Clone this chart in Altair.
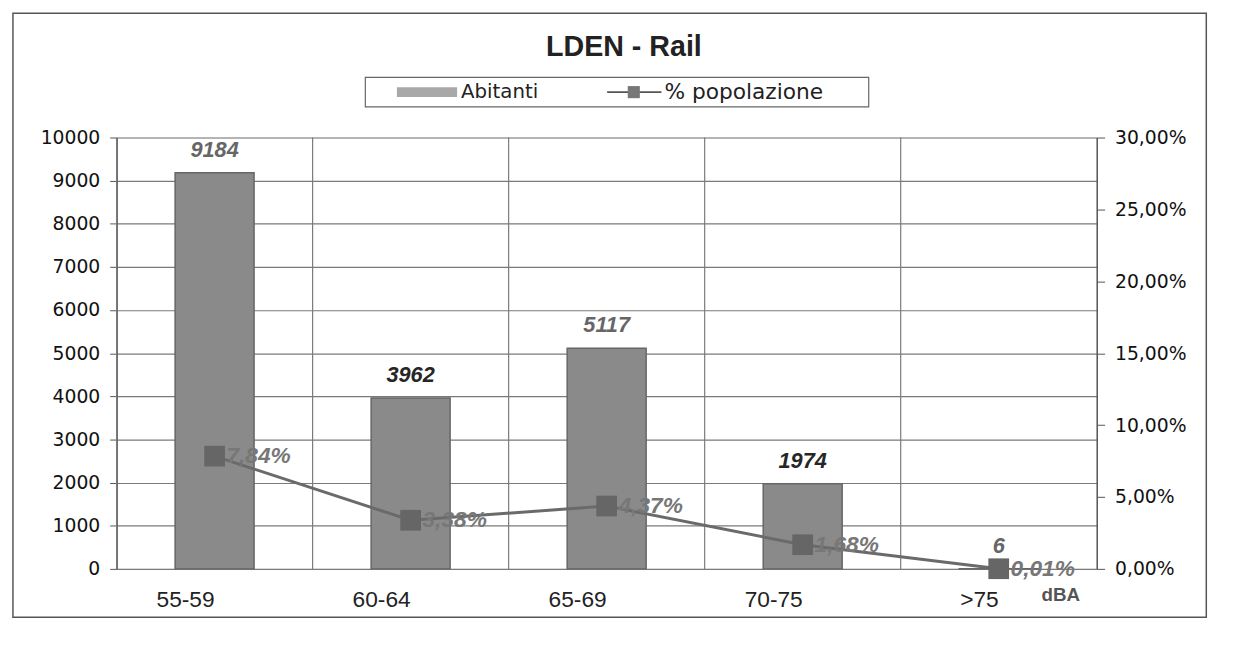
import altair as alt
import pandas as pd

categories = ["55-59", "60-64", "65-69", "70-75", ">75"]
abitanti = [9184, 3962, 5117, 1974, 6]
percent = [0.0784, 0.0338, 0.0437, 0.0168, 0.0001]
pct_labels = ["7,84%", "3,38%", "4,37%", "1,68%", "0,01%"]
bar_label_colors = ["#666666", "#262626", "#666666", "#262626", "#666666"]

df = pd.DataFrame({
    "cat": categories,
    "abitanti": abitanti,
    "pct": percent,
    "pct_label": pct_labels,
    "lbl_color": bar_label_colors,
})

W, H = 993, 437
FONT = "Liberation Sans"
WIDE = "DejaVu Sans"

xenc = alt.X("cat:N", sort=categories,
             scale=alt.Scale(paddingInner=0, paddingOuter=0),
             axis=alt.Axis(title=None, labelFontSize=23, labelColor="#222",
                           labelFont=FONT, labelPadding=31, ticks=False,
                           domain=False, grid=False, labelAngle=0))

yleft = alt.Y("abitanti:Q",
              scale=alt.Scale(domain=[0, 10000], nice=False),
              axis=alt.Axis(title=None, values=list(range(0, 10001, 1000)),
                            format="d",
                            labelFontSize=19, labelFont=WIDE, labelColor="#111",
                            tickSize=7, tickColor="#555", domainColor="#555",
                            domainWidth=1.5, labelPadding=10,
                            grid=True, gridColor="#7a7a7a", gridWidth=1.2))

base = alt.Chart(df)

bars = base.mark_bar(color="#8a8a8a", stroke="#666666", strokeWidth=1.5,
                     width=80).encode(x=xenc, y=yleft)

vgrid = base.mark_rule(color="#7a7a7a", strokeWidth=1.2).encode(
    x=alt.X("cat:N", sort=categories, bandPosition=0)
)

bar_text = base.mark_text(fontSize=22, fontWeight="bold", fontStyle="italic",
                          font=FONT, dy=-23).encode(
    x=alt.X("cat:N", sort=categories),
    y=alt.Y("abitanti:Q"),
    text="abitanti:Q",
    color=alt.Color("lbl_color:N", scale=None),
)

left = alt.layer(vgrid, bars, bar_text)

yright = alt.Y("pct:Q",
               scale=alt.Scale(domain=[0, 0.30], nice=False),
               axis=alt.Axis(title=None, orient="right",
                             values=[0, 0.05, 0.10, 0.15, 0.20, 0.25, 0.30],
                             labelExpr="replace(format(datum.value, '.2%'), '.', ',')",
                             labelFontSize=19, labelFont=WIDE, labelColor="#111",
                             tickSize=8, tickColor="#555", domainColor="#555",
                             domainWidth=1.5, labelPadding=10, grid=False))

line = base.mark_line(color="#6a6a6a", strokeWidth=3).encode(
    x=alt.X("cat:N", sort=categories), y=yright)
pts = base.mark_point(shape="square", size=440, filled=True, color="#666666",
                      opacity=1).encode(x=alt.X("cat:N", sort=categories), y=yright)
pct_text = base.mark_text(fontSize=23, fontWeight="bold", fontStyle="italic",
                          font=FONT, color="#777777", align="left", dx=12).encode(
    x=alt.X("cat:N", sort=categories), y=yright, text="pct_label:N")

right = alt.layer(line, pts, pct_text)

# decorations (title, legend, unit, frame)
one = pd.DataFrame({"k": [0]})
deco_base = alt.Chart(one)
title = deco_base.mark_text(text="LDEN - Rail", fontSize=29, fontWeight="bold",
                            font=FONT, color="#222").encode(
    x=alt.value(514), y=alt.value(-92))
leg_box = deco_base.mark_rect(fill="white", stroke="#666", strokeWidth=1.2).encode(
    x=alt.value(252), x2=alt.value(762), y=alt.value(-61), y2=alt.value(-31))
leg_sw = deco_base.mark_rect(fill="#a8a8a8").encode(
    x=alt.value(284), x2=alt.value(345), y=alt.value(-51), y2=alt.value(-41))
leg_t1 = deco_base.mark_text(text="Abitanti", fontSize=20, font=WIDE, color="#222",
                             align="left").encode(x=alt.value(349), y=alt.value(-46))
leg_ln = deco_base.mark_rule(color="#555", strokeWidth=2).encode(
    x=alt.value(497), x2=alt.value(552), y=alt.value(-46))
leg_sq = deco_base.mark_point(shape="square", filled=True, size=150, color="#777",
                              opacity=1).encode(x=alt.value(524), y=alt.value(-46))
leg_t2 = deco_base.mark_text(text="% popolazione", fontSize=22, font=WIDE, color="#222",
                             align="left").encode(x=alt.value(555), y=alt.value(-46))
dba = deco_base.mark_text(text="dBA", fontSize=19, fontWeight="bold", font=FONT,
                          color="#555", align="left").encode(
    x=alt.value(937), y=alt.value(27 + H))
frame = deco_base.mark_rect(fill=None, stroke="#555", strokeWidth=1.5).encode(
    x=alt.value(-105), x2=alt.value(1104), y=alt.value(-126), y2=alt.value(486))

deco = alt.layer(frame, title, leg_box, leg_sw, leg_t1, leg_ln, leg_sq, leg_t2, dba)

chart = alt.layer(left, right, deco).resolve_scale(y="independent").properties(
    width=W, height=H,
    autosize=alt.AutoSizeParams(type="none"),
    padding={"left": 110, "top": 127, "right": 1237 - 110 - W, "bottom": 645 - 127 - H},
).configure_view(stroke=None).configure(background="white")

chart.save("out.html", embed_options={"renderer": "svg", "actions": False})
